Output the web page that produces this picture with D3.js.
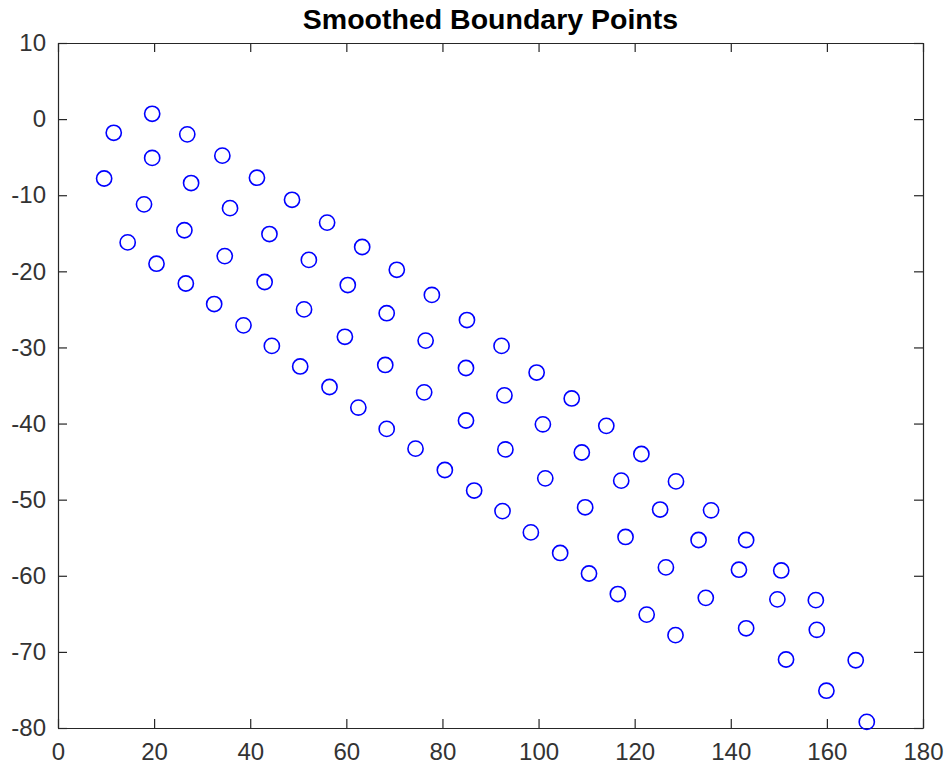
<!DOCTYPE html>
<html>
<head>
<meta charset="utf-8">
<script src="https://cdn.jsdelivr.net/npm/d3@7"></script>
<style>
  html, body { margin: 0; padding: 0; background: #ffffff; }
  svg { display: block; }
</style>
</head>
<body>
<div id="chart"></div>
<script>
// Boundary point coordinates after smoothing
const xValues = [11.6,19.6,26.9,19.6,34.2,9.6,27.7,41.4,17.9,35.8,
  48.7,26.3,44.0,56.0,14.5,20.5,34.7,52.2,63.3,70.5,
  26.6,43.0,60.3,32.5,51.2,68.4,77.8,38.6,59.7,76.5,
  85.1,44.5,68.1,84.9,50.4,56.5,76.2,62.5,68.4,84.9,
  74.4,80.5,86.6,92.3,99.6,92.9,106.9,100.9,114.1,93.1,
  109.0,121.4,101.4,117.2,128.6,92.5,109.7,125.3,135.9,98.4,
  118.1,133.3,143.2,104.5,126.5,141.7,150.5,110.5,116.5,134.8,
  149.7,157.7,122.5,128.5,143.2,157.9,151.5,166.0,159.9,168.3];
const yValues = [-1.8,0.7,-2.0,-5.1,-4.8,-7.8,-8.4,-7.7,-11.2,-11.7,
  -10.6,-14.6,-15.1,-13.6,-16.2,-19.0,-18.0,-18.5,-16.8,-19.8,
  -21.6,-21.4,-21.8,-24.3,-25.0,-25.5,-23.1,-27.1,-28.6,-29.1,
  -26.4,-29.8,-32.3,-32.7,-32.5,-35.2,-35.9,-37.9,-40.7,-39.6,
  -43.3,-46.1,-48.8,-29.8,-33.3,-36.3,-36.7,-40.1,-40.3,-43.4,
  -43.8,-44.0,-47.2,-47.5,-47.6,-51.5,-51.0,-51.3,-51.4,-54.3,
  -54.9,-55.3,-55.3,-57.0,-58.9,-59.2,-59.3,-59.7,-62.4,-62.9,
  -63.1,-63.2,-65.1,-67.8,-66.9,-67.1,-71.0,-71.1,-75.1,-79.2];
const xTicks = [0,20,40,60,80,100,120,140,160,180];
const yTicks = [-80,-70,-60,-50,-40,-30,-20,-10,0,10];
const titleText = "Smoothed Boundary Points";

const width = 949, height = 765;
const margin = { top: 43, right: 26, bottom: 37, left: 58 };
const innerW = width - margin.left - margin.right;
const innerH = height - margin.top - margin.bottom;

const svg = d3.select("#chart").append("svg")
  .attr("width", width).attr("height", height);

const x = d3.scaleLinear().domain([0, 180]).range([0, innerW]);
const y = d3.scaleLinear().domain([-80, 10]).range([innerH, 0]);

const g = svg.append("g").attr("transform", `translate(${margin.left},${margin.top})`);

const axisColor = "#262626";
const tickLen = 9;
const fontFamily = "'Liberation Sans', Arial, Helvetica, sans-serif";
// plain hyphen-minus for negative numbers
const fmt = d => String(d);

function styleAxis(sel) {
  sel.select(".domain").attr("stroke", axisColor).attr("stroke-width", 1.2);
  sel.selectAll(".tick line").attr("stroke", axisColor).attr("stroke-width", 1.2);
  sel.selectAll(".tick text")
    .attr("fill", "#333333")
    .style("font-family", fontFamily)
    .style("font-size", "24px");
}

// Bottom axis with labels, ticks pointing inward
g.append("g")
  .attr("transform", `translate(0,${innerH})`)
  .call(d3.axisBottom(x).tickValues(xTicks).tickFormat(fmt)
    .tickSizeInner(-tickLen).tickSizeOuter(0).tickPadding(15))
  .call(styleAxis);

// Left axis with labels
g.append("g")
  .call(d3.axisLeft(y).tickValues(yTicks).tickFormat(fmt)
    .tickSizeInner(-tickLen).tickSizeOuter(0).tickPadding(12))
  .call(styleAxis);

// Top and right axes: ticks only
g.append("g")
  .call(d3.axisTop(x).tickValues(xTicks).tickFormat("")
    .tickSizeInner(-tickLen).tickSizeOuter(0))
  .call(styleAxis);

g.append("g")
  .attr("transform", `translate(${innerW},0)`)
  .call(d3.axisRight(y).tickValues(yTicks).tickFormat("")
    .tickSizeInner(-tickLen).tickSizeOuter(0))
  .call(styleAxis);

// Circle markers
g.append("g")
  .selectAll("circle")
  .data(d3.zip(xValues, yValues))
  .join("circle")
  .attr("cx", d => x(d[0]))
  .attr("cy", d => y(d[1]))
  .attr("r", 7.6)
  .attr("fill", "none")
  .attr("stroke", "#0000ff")
  .attr("stroke-width", 1.6);

// Title
svg.append("text")
  .attr("x", margin.left + innerW / 2)
  .attr("y", 29)
  .attr("text-anchor", "middle")
  .style("font-family", fontFamily)
  .style("font-weight", "bold")
  .style("font-size", "28.5px")
  .attr("fill", "#000000")
  .text(titleText);
</script>
</body>
</html>
